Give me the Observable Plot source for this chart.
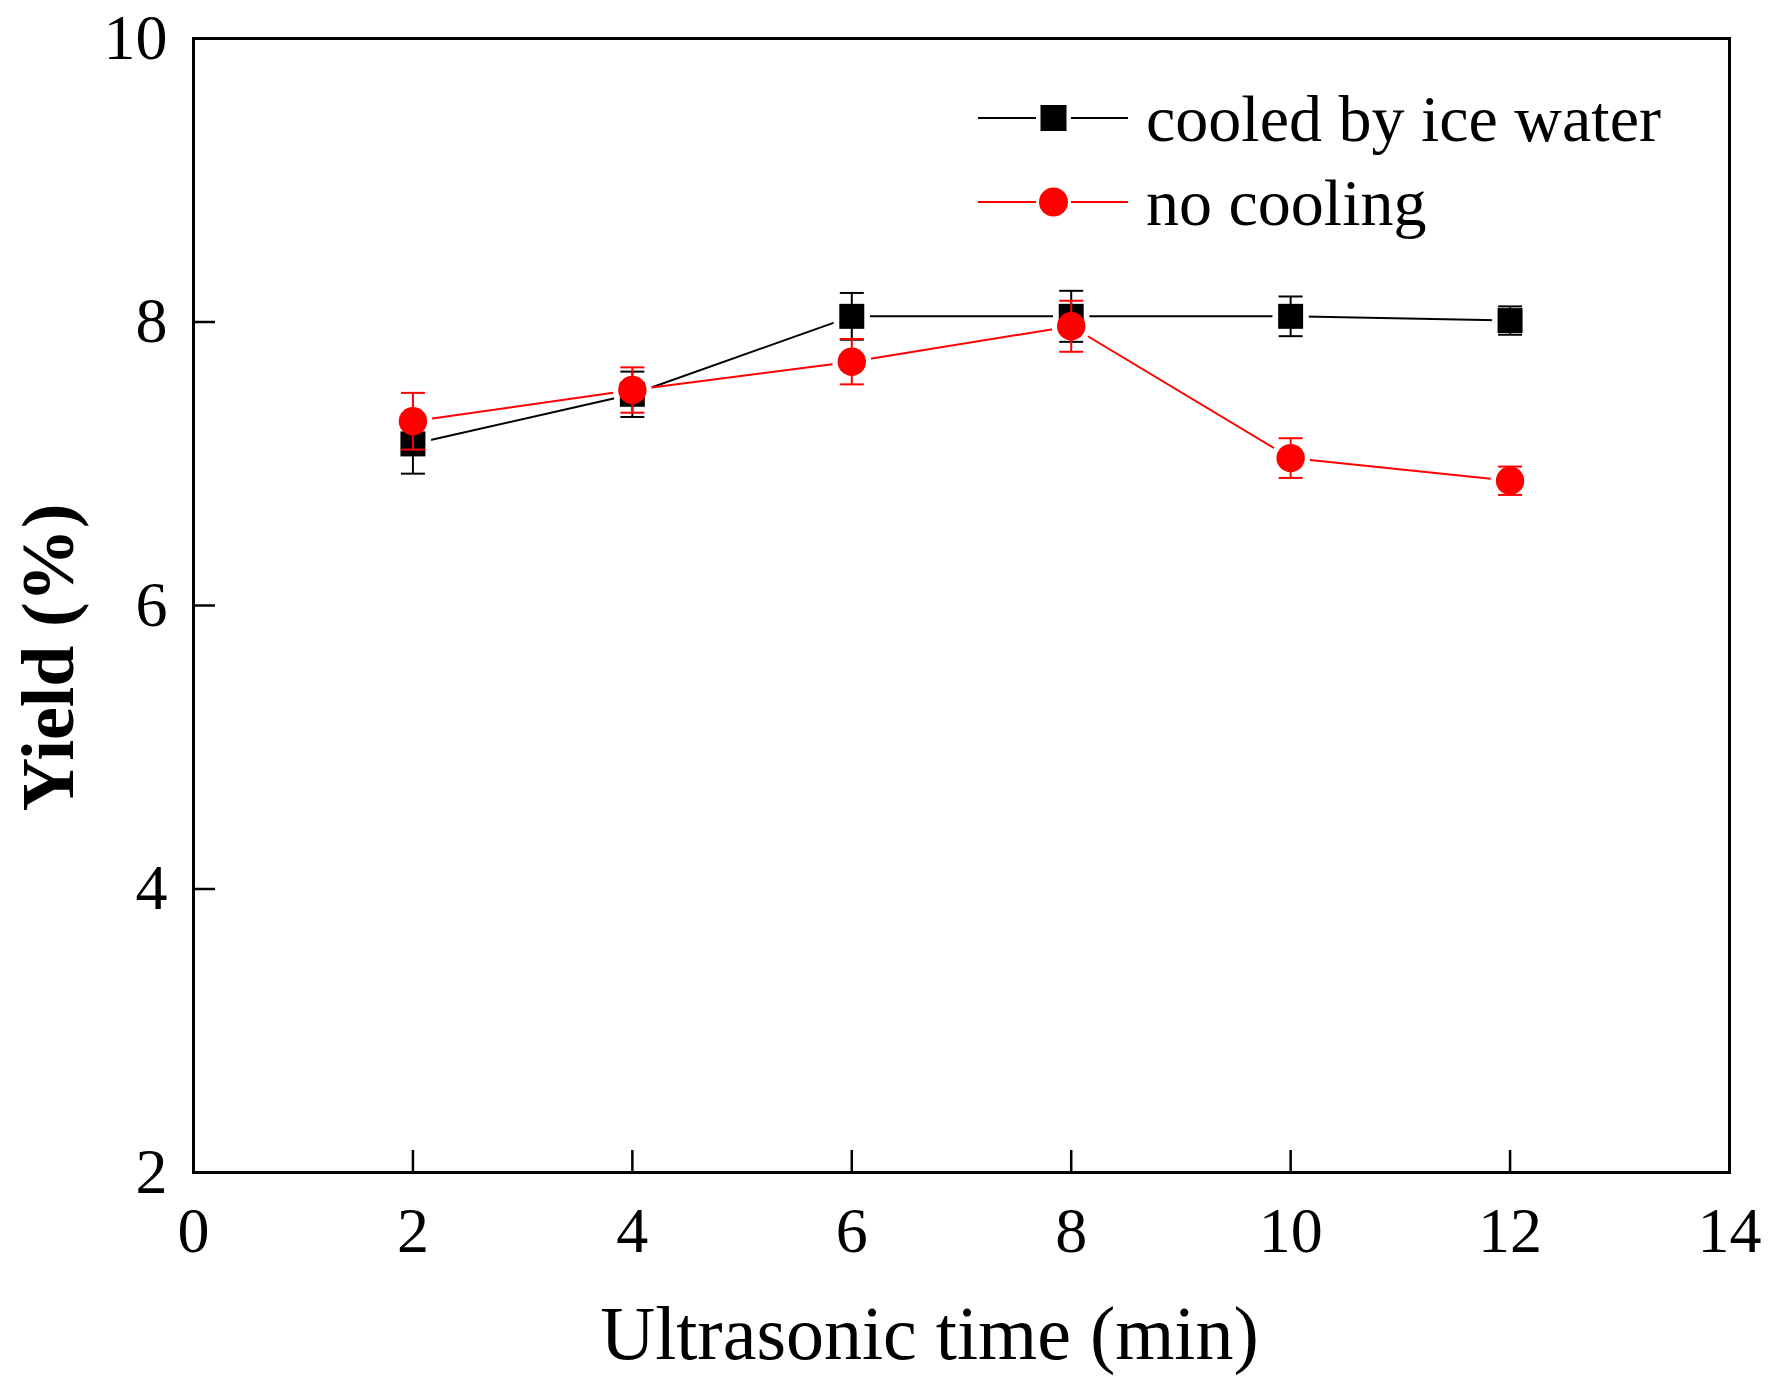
<!DOCTYPE html>
<html>
<head>
<meta charset="utf-8">
<script src="https://cdn.jsdelivr.net/npm/d3@7"></script>
<script src="https://cdn.jsdelivr.net/npm/@observablehq/plot@0.6"></script>
<style>
  html, body { margin: 0; padding: 0; background: #fff; }
  #chart { width: 1776px; height: 1385px; }
</style>
</head>
<body>
<div id="chart"></div>
<script>
// ---- data ----
const times = [2, 4, 6, 8, 10, 12];
const cooledYield = [7.14, 7.49, 8.04, 8.04, 8.04, 8.01];
const cooledErr   = [0.21, 0.16, 0.165, 0.18, 0.14, 0.10];
const noCoolYield = [7.30, 7.52, 7.72, 7.97, 7.04, 6.88];
const noCoolErr   = [0.20, 0.16, 0.16, 0.18, 0.14, 0.10];
const seriesNames = ["cooled by ice water", "no cooling"];
const xTickLabels = [0, 2, 4, 6, 8, 10, 12, 14];
const yTickLabels = [2, 4, 6, 8, 10];
const xTickMarks = [2, 4, 6, 8, 10, 12];
const yTickMarks = [4, 6, 8];
const xTitle = "Ultrasonic time (min)";
const yTitle = "Yield (%)";

const W = 1776, H = 1385;
const mL = 193, mR = 47, mT = 38, mB = 213;
const frameW = W - mL - mR, frameH = H - mT - mB;
const tickLen = 22;
const font = "'Liberation Serif', 'Times New Roman', serif";

const cooled = times.map((t, i) => ({x: t, y: cooledYield[i], e: cooledErr[i]}));
const noCool = times.map((t, i) => ({x: t, y: noCoolYield[i], e: noCoolErr[i]}));

const cap = { draw(ctx, size) { const r = Math.sqrt(size / Math.PI); ctx.moveTo(-r, 0); ctx.lineTo(r, 0); } };

function errMarks(data, color) {
  return [
    Plot.ruleX(data, {x: "x", y1: d => d.y - d.e, y2: d => d.y + d.e, stroke: color, strokeWidth: 2}),
    Plot.dot(data, {x: "x", y: d => d.y + d.e, symbol: cap, r: 12, stroke: color, strokeWidth: 2, fill: "none"}),
    Plot.dot(data, {x: "x", y: d => d.y - d.e, symbol: cap, r: 12, stroke: color, strokeWidth: 2, fill: "none"})
  ];
}

const svg = Plot.plot({
  width: W, height: H,
  marginLeft: mL, marginRight: mR, marginTop: mT, marginBottom: mB,
  x: {domain: [0, 14]},
  y: {domain: [2, 10]},
  style: {fontFamily: font, background: "#fff", color: "#000"},
  marks: [
    Plot.line(cooled, {x: "x", y: "y", stroke: "#000", strokeWidth: 2}),
    Plot.line(noCool, {x: "x", y: "y", stroke: "#ff0000", strokeWidth: 2}),
    // white halos give the gap between lines and symbols
    Plot.dot(cooled, {x: "x", y: "y", symbol: "square", r: 20.5, fill: "#fff"}),
    Plot.dot(noCool, {x: "x", y: "y", symbol: "circle", r: 19.5, fill: "#fff"}),
    ...errMarks(cooled, "#000"),
    Plot.dot(cooled, {x: "x", y: "y", symbol: "square", r: 14.1, fill: "#000"}),
    ...errMarks(noCool, "#ff0000"),
    Plot.dot(noCool, {x: "x", y: "y", symbol: "circle", r: 14.2, fill: "#ff0000"}),
    // inward ticks
    Plot.tickX(xTickMarks, {x: d => d, insetTop: frameH - tickLen, stroke: "#000", strokeWidth: 2.5}),
    Plot.tickY(yTickMarks, {y: d => d, insetRight: frameW - tickLen, stroke: "#000", strokeWidth: 2.5}),
    Plot.frame({stroke: "#000", strokeWidth: 3}),
    Plot.axisX(xTickLabels, {tickSize: 0, tickPadding: 34, fontSize: 64, label: null, fill: "#000", tickFormat: d => String(d)}),
    Plot.axisY(yTickLabels, {tickSize: 0, tickPadding: 26, fontSize: 64, label: null, fill: "#000", tickFormat: d => String(d)}),
    Plot.text([xTitle], {text: d => d, frameAnchor: "bottom", textAnchor: "middle", dx: -32, dy: 162, fontSize: 76, lineAnchor: "middle", fill: "#000"}),
    Plot.text([yTitle], {text: d => d, frameAnchor: "left", textAnchor: "middle", rotate: -90, dx: -144, dy: 52, fontSize: 74, fontWeight: "bold", lineAnchor: "middle", fill: "#000"})
  ]
});

// legend (inside the plot area, top right)
const g = d3.select(svg).append("g").attr("class", "legend").attr("text-anchor", "start");
const legendRows = [
  {name: seriesNames[0], color: "#000", sym: "square", y: 118},
  {name: seriesNames[1], color: "#ff0000", sym: "circle", y: 202}
];
legendRows.forEach(r => {
  g.append("line").attr("x1", 978).attr("x2", 1036).attr("y1", r.y).attr("y2", r.y).attr("stroke", r.color).attr("stroke-width", 2);
  g.append("line").attr("x1", 1071).attr("x2", 1128).attr("y1", r.y).attr("y2", r.y).attr("stroke", r.color).attr("stroke-width", 2);
  if (r.sym === "square") {
    g.append("rect").attr("x", 1053.5 - 13).attr("y", r.y - 13).attr("width", 26).attr("height", 26).attr("fill", r.color);
  } else {
    g.append("circle").attr("cx", 1053.5).attr("cy", r.y).attr("r", 14.5).attr("fill", r.color);
  }
  g.append("text").attr("x", 1146).attr("y", r.y + 23).attr("font-size", 66).attr("font-family", font)
    .attr("text-anchor", "start").attr("fill", "#000").text(r.name);
});

document.getElementById("chart").appendChild(svg);
</script>
</body>
</html>
